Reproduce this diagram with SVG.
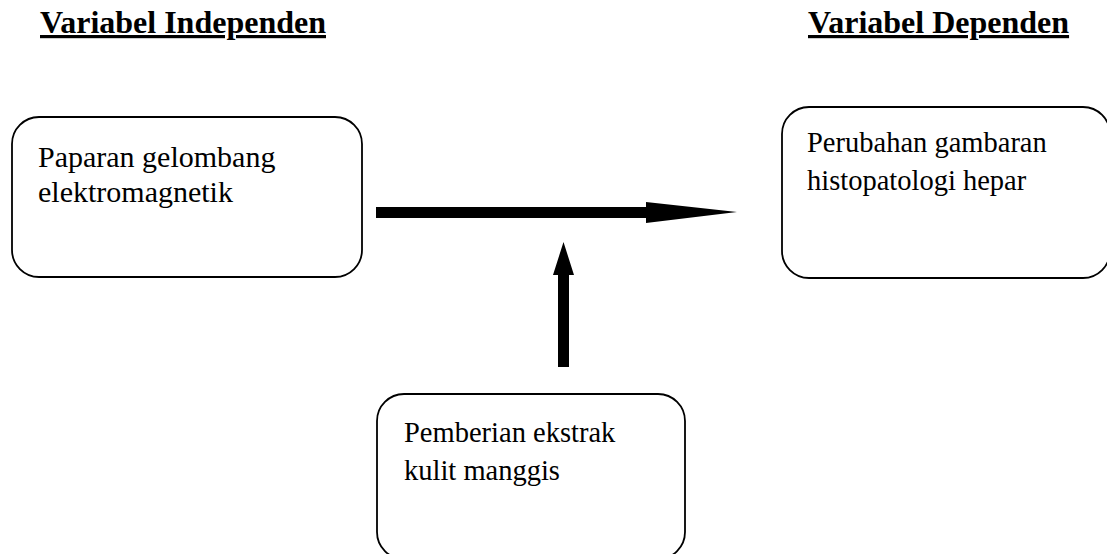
<svg xmlns="http://www.w3.org/2000/svg" width="1107" height="554" viewBox="0 0 1107 554">
<style>
.title{font-family:"Liberation Serif","Times New Roman",serif;font-weight:bold;font-size:32px;fill:#000;text-decoration:underline}
.lbl{font-family:"Liberation Serif","Times New Roman",serif;font-size:28.5px;fill:#000}
.big{font-size:30px}
.box{fill:#fff;stroke:#000;stroke-width:1.8}
.arr{fill:#000;stroke:none}
</style>
<rect width="1107" height="554" fill="#fff"/>
<g id="title-independen">
<text class="title" x="40" y="33">Variabel Independen</text>
</g>
<g id="title-dependen">
<text class="title" x="808" y="33">Variabel Dependen</text>
</g>
<g id="node-paparan">
<rect class="box" x="12" y="117" width="350" height="160" rx="27" ry="27"/>
<text class="lbl big" x="38" y="167">Paparan gelombang</text>
<text class="lbl big" x="38" y="202">elektromagnetik</text>
</g>
<g id="node-perubahan">
<rect class="box" x="782" y="107" width="328" height="171" rx="27" ry="27"/>
<text class="lbl" x="807" y="152">Perubahan gambaran</text>
<text class="lbl" x="807" y="190">histopatologi hepar</text>
</g>
<g id="node-pemberian">
<rect class="box" x="377" y="394" width="308" height="165" rx="27" ry="27"/>
<text class="lbl" x="404" y="442">Pemberian ekstrak</text>
<text class="lbl" x="404" y="480">kulit manggis</text>
</g>
<g id="connectors">
<polygon class="arr" points="376,207 646,207 646,202 737,212 646,223 646,218 376,218"/>
<polygon class="arr" points="558,367 558,275 553,275 563.5,242 574,275 569,275 569,367"/>
</g>
</svg>
